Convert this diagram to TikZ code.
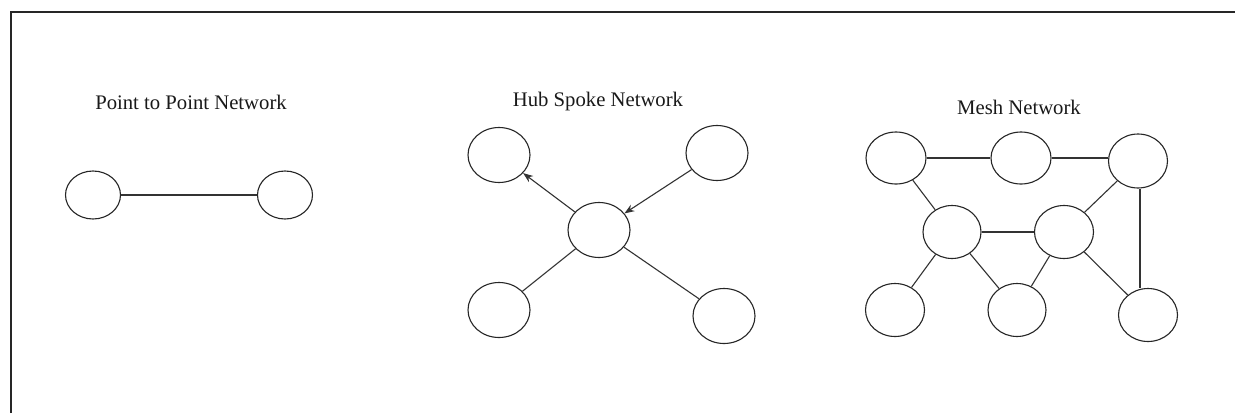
\documentclass[tikz,border=0pt]{standalone}
\usepackage{fontspec}
\setmainfont{Liberation Serif}
\usetikzlibrary{arrows.meta,shapes.geometric}
\begin{document}
\begin{tikzpicture}[x=1pt,y=-1pt,
  nd/.style={draw=black!85,ellipse,line width=1.1pt,minimum width=#1pt,minimum height=52pt,inner sep=0pt},
  nd/.default=60,
  lbl/.style={font=\fontsize{20.7}{24}\selectfont,text=black!90,inner sep=0pt},
  edge/.style={draw=black!80,line width=1.1pt},
  arr/.style={edge,-{Stealth[length=10pt,width=7.5pt]}}]
\useasboundingbox (0,0) rectangle (1235,413);
\fill[white] (0,0) rectangle (1235,413);
% frame
\coordinate (fTL) at (11,12);
\coordinate (fTR) at (1235,12);
\coordinate (fBL) at (11,413);
\draw[line width=2.6pt,black!85] (fBL) -- (fTL) -- (fTR);
% Point to point
\node[lbl] (t1) at (191,102) {Point to Point Network};
\node[nd=55,minimum height=48pt] (p1) at (93,195) {};
\node[nd=55,minimum height=48pt] (p2) at (285,195) {};
\draw[edge] (p1) -- (p2);
% Hub spoke
\node[lbl] (t2) at (598,102) {Hub Spoke Network};
\node[nd=62,minimum height=55pt] (h0) at (599,230) {};
\node[nd=62,minimum height=55pt] (h1) at (499,155) {};
\node[nd=62,minimum height=55pt] (h2) at (717,153) {};
\node[nd=62,minimum height=55pt] (h3) at (499,310) {};
\node[nd=62,minimum height=55pt] (h4) at (724,316) {};
\draw[arr] (h0) -- (h1);
\draw[arr] (h2) -- (h0);
\draw[edge] (h0) -- (h3);
\draw[edge] (h0) -- (h4);
% Mesh
\node[lbl] (t3) at (1019,107) {Mesh Network};
\node[nd=60] (A) at (896,158) {};
\node[nd=60] (B) at (1021,158) {};
\node[nd=59,minimum height=54pt] (C) at (1138,161) {};
\node[nd=58,minimum height=53pt] (D) at (952,232) {};
\node[nd=59,minimum height=53pt] (E) at (1064,232) {};
\node[nd=59,minimum height=53pt] (F) at (895,310) {};
\node[nd=58,minimum height=53pt] (G) at (1017,310) {};
\node[nd=59,minimum height=53pt] (H) at (1148,315) {};
\draw[edge] (A) -- (B);
\draw[edge] (B.east) -- (B.east -| C.west);
\draw[edge] (A) -- (D);
\draw[edge] (D) -- (E);
\draw[edge] (E) -- (C);
\draw[edge] ([xshift=2pt]C.south) -- ([xshift=2pt]C.south |- H.north);
\draw[edge] (D) -- (F);
\draw[edge] (D) -- (G);
\draw[edge] (E) -- (G);
\draw[edge] (E) -- (H);
\end{tikzpicture}
\end{document}
